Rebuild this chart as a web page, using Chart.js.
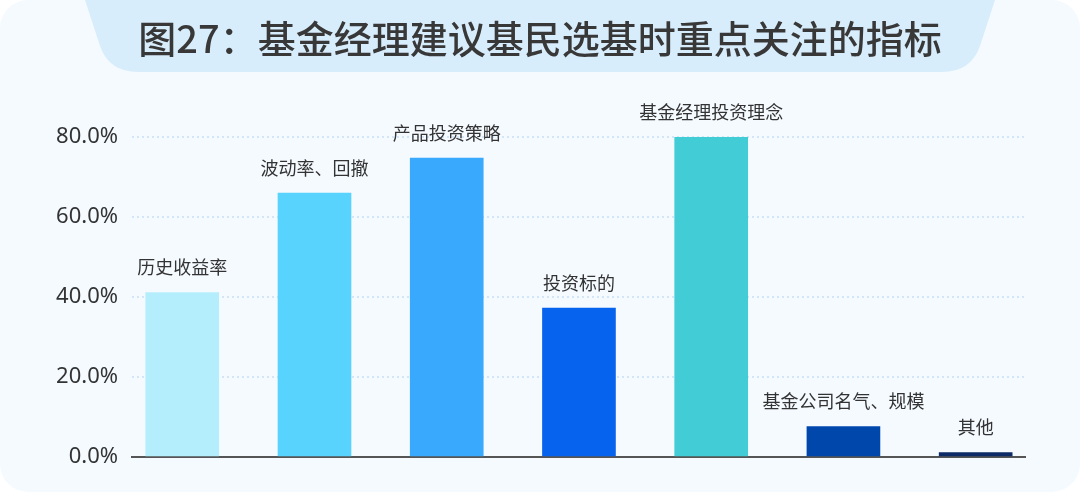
<!DOCTYPE html>
<html lang="zh">
<head>
<meta charset="utf-8">
<script src="https://cdn.jsdelivr.net/npm/chart.js@4.4.1/dist/chart.umd.min.js"></script>
<style>
  html, body { margin: 0; padding: 0; background: #fff; }
  #wrap {
    width: 1080px; height: 492px; position: relative;
    background: #f5faff; border-radius: 28px; overflow: hidden;
  }
  canvas { display: block; }
</style>
</head>
<body>
<div id="wrap"><canvas id="c" width="1080" height="492"></canvas></div>
<script>
// 数据
const title = '图27：基金经理建议基民选基时重点关注的指标';
const categories = ['历史收益率', '波动率、回撤', '产品投资策略', '投资标的', '基金经理投资理念', '基金公司名气、规模', '其他'];
const shares = [41.1, 66.0, 74.7, 37.2, 80.0, 7.6, 1.1];
const barColors = ['#b4eefd', '#58d3fd', '#38a9fc', '#0563ee', '#42cdd6', '#0047ac', '#0b2a66'];
const yTicks = [0, 20, 40, 60, 80];

const FONT = '"Noto Sans", "Noto Sans CJK SC", sans-serif';

// 标题底板 + 标题文字
const headerPlugin = {
  id: 'header',
  beforeDraw(chart) {
    const ctx = chart.ctx;
    ctx.save();
    ctx.fillStyle = '#d8edfc';
    ctx.beginPath();
    ctx.moveTo(85, 0);
    ctx.lineTo(100, 46);
    ctx.quadraticCurveTo(109, 72, 138, 72);
    ctx.lineTo(942, 72);
    ctx.quadraticCurveTo(971, 72, 980, 46);
    ctx.lineTo(995, 0);
    ctx.closePath();
    ctx.fill();
    ctx.fillStyle = '#383838';
    ctx.font = '500 38px "Noto Sans CJK SC", sans-serif';
    ctx.textAlign = 'center';
    ctx.textBaseline = 'middle';
    ctx.fillText(title, 540, 39);
    ctx.restore();
  }
};

// 柱子上方的类别名称
const barLabelPlugin = {
  id: 'barLabels',
  afterDatasetsDraw(chart) {
    const ctx = chart.ctx;
    const meta = chart.getDatasetMeta(0);
    ctx.save();
    ctx.fillStyle = '#333';
    ctx.font = '18px "Noto Sans CJK SC", sans-serif';
    ctx.textAlign = 'center';
    ctx.textBaseline = 'middle';
    meta.data.forEach((bar, i) => {
      ctx.fillText(categories[i], bar.x, bar.y - 25);
    });
    ctx.restore();
  }
};

new Chart(document.getElementById('c').getContext('2d'), {
  type: 'bar',
  data: {
    datasets: [{
      data: categories.map((c, i) => ({ x: i, y: shares[i] })),
      backgroundColor: barColors,
      barThickness: 73
    }]
  },
  options: {
    responsive: false,
    animation: false,
    layout: { padding: { top: 137, right: 55, bottom: 35, left: 0 } },
    plugins: { legend: { display: false }, tooltip: { enabled: false } },
    scales: {
      x: {
        type: 'linear',
        offset: false,
        min: -0.38,
        max: 6.373,
        grid: { display: false, drawTicks: false },
        ticks: { display: false },
        border: { display: true, color: '#555', width: 2 }
      },
      y: {
        min: 0,
        max: 80,
        afterBuildTicks: s => { s.ticks = yTicks.map(v => ({ value: v })); },
        afterFit: s => { s.width = 132; },
        grid: { color: '#d3e5f8', lineWidth: 2, drawTicks: false },
        border: { display: false, dash: [2, 3] },
        ticks: {
          padding: 14,
          color: '#333',
          font: { size: 22, family: FONT },
          callback: v => v.toFixed(1) + '%'
        }
      }
    }
  },
  plugins: [headerPlugin, barLabelPlugin]
});
</script>
</body>
</html>
